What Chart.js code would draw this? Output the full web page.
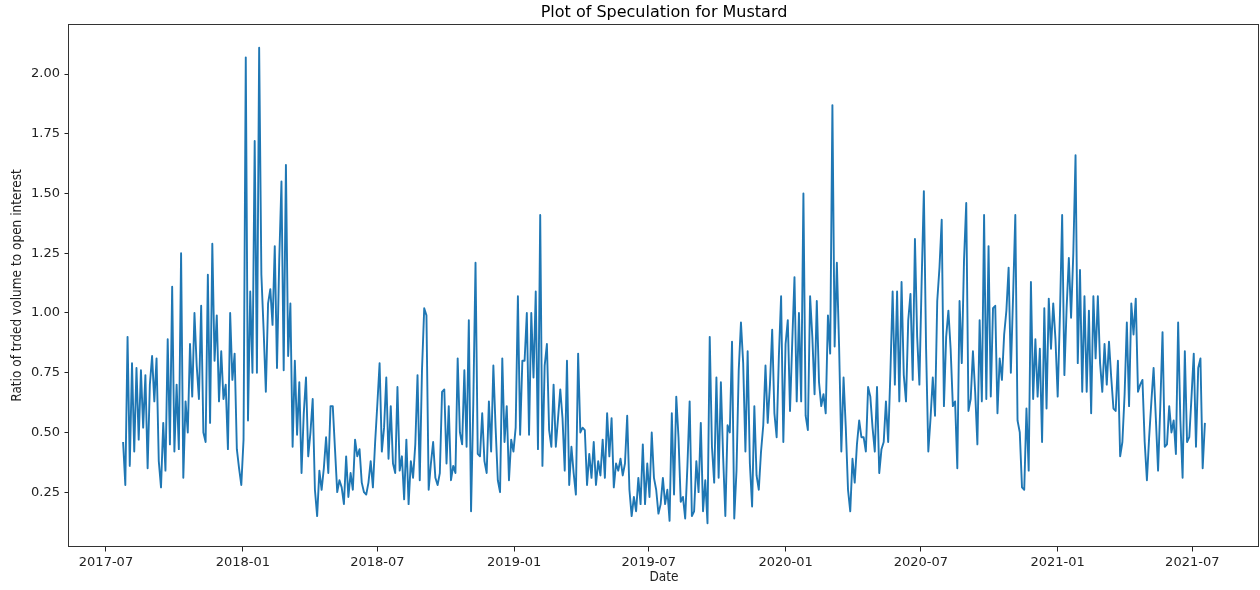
<!DOCTYPE html>
<html>
<head>
<meta charset="utf-8">
<title>Plot of Speculation for Mustard</title>
<script src="https://cdn.jsdelivr.net/npm/chart.js@4.4.1/dist/chart.umd.min.js"></script>
<style>
    html, body { margin: 0; padding: 0; background: #fff; }
</style>
</head>
<body>
<canvas id="myChart" width="1260" height="590"></canvas>
<script>
const startDate = '2017-07-24'
const stepDays = 3

// ratio of traded volume to open interest, one reading every stepDays
const ratio = [
    // 2017-07 .. 2017-11
    0.46, 0.28, 0.90, 0.36, 0.79, 0.42, 0.77, 0.47, 0.76, 0.52,
    0.74, 0.35, 0.70, 0.82, 0.63, 0.81, 0.38, 0.27, 0.54, 0.34,
    0.89, 0.45, 1.11, 0.42, 0.70, 0.43, 1.25, 0.31, 0.63, 0.50,
    0.87, 0.65, 1.00, 0.78, 0.64, 1.03, 0.50, 0.46, 1.16, 0.54,
    1.29, 0.80, 0.99, 0.63, 0.84, 0.64,
    // 2017-12 .. 2018-05
    0.70, 0.43, 1.00, 0.72, 0.83, 0.43, 0.35, 0.28, 0.47, 2.07,
    0.55, 1.09, 0.75, 1.72, 0.75, 2.11, 1.16, 0.93, 0.67, 1.04,
    1.10, 0.95, 1.28, 0.77, 1.22, 1.55, 0.76, 1.62, 0.82, 1.04,
    0.44, 0.80, 0.49, 0.71, 0.33, 0.58, 0.73, 0.40, 0.50, 0.64,
    0.26, 0.15, 0.34, 0.26, 0.35, 0.48, 0.33, 0.61, 0.61,
    // 2018-05 .. 2018-10
    0.43, 0.25, 0.30, 0.27, 0.20, 0.40, 0.23, 0.33, 0.26, 0.47,
    0.40, 0.43, 0.29, 0.25, 0.24, 0.29, 0.38, 0.27, 0.46, 0.62,
    0.79, 0.42, 0.52, 0.73, 0.39, 0.61, 0.37, 0.33, 0.69, 0.34,
    0.40, 0.22, 0.47, 0.20, 0.38, 0.31, 0.45, 0.74, 0.30, 0.76,
    1.02, 0.99, 0.26, 0.37, 0.46, 0.31, 0.28, 0.33, 0.67,
    // 2018-10 .. 2019-03
    0.68, 0.37, 0.61, 0.30, 0.36, 0.33, 0.81, 0.50, 0.45, 0.76,
    0.44, 0.97, 0.17, 0.62, 1.21, 0.41, 0.40, 0.58, 0.38, 0.33,
    0.63, 0.42, 0.78, 0.52, 0.30, 0.25, 0.81, 0.46, 0.61, 0.30,
    0.47, 0.42, 0.52, 1.07, 0.49, 0.80, 0.80, 1.00, 0.49, 1.00,
    0.73, 1.09, 0.43, 1.41, 0.36, 0.78, 0.87, 0.51, 0.44, 0.70,
    // 2019-03 .. 2019-08
    0.44, 0.56, 0.68, 0.56, 0.34, 0.80, 0.28, 0.44, 0.33, 0.24,
    0.83, 0.50, 0.52, 0.51, 0.28, 0.41, 0.31, 0.46, 0.28, 0.38,
    0.32, 0.47, 0.31, 0.58, 0.40, 0.56, 0.27, 0.37, 0.34, 0.39,
    0.32, 0.37, 0.57, 0.26, 0.15, 0.23, 0.17, 0.31, 0.20, 0.45,
    0.20, 0.37, 0.23, 0.50, 0.31, 0.26, 0.16, 0.20, 0.31,
    // 2019-08 .. 2020-01
    0.20, 0.26, 0.13, 0.58, 0.24, 0.65, 0.48, 0.21, 0.23, 0.14,
    0.36, 0.63, 0.15, 0.17, 0.38, 0.25, 0.54, 0.17, 0.30, 0.12,
    0.90, 0.44, 0.29, 0.73, 0.31, 0.71, 0.40, 0.15, 0.53, 0.50,
    0.88, 0.14, 0.34, 0.76, 0.96, 0.79, 0.42, 0.84, 0.37, 0.19,
    0.61, 0.32, 0.26, 0.42, 0.53, 0.78, 0.54, 0.70, 0.93,
    // 2020-01 .. 2020-06
    0.58, 0.48, 0.82, 1.07, 0.46, 0.87, 0.97, 0.59, 0.88, 1.15,
    0.63, 1.00, 0.63, 1.50, 0.57, 0.51, 1.07, 0.90, 0.66, 1.05,
    0.71, 0.61, 0.66, 0.58, 0.99, 0.83, 1.87, 0.86, 1.21, 0.86,
    0.42, 0.73, 0.52, 0.26, 0.17, 0.39, 0.29, 0.45, 0.55, 0.48,
    0.48, 0.42, 0.69, 0.65, 0.52, 0.42, 0.69, 0.33, 0.43,
    // 2020-06 .. 2020-11
    0.46, 0.63, 0.46, 0.75, 1.09, 0.70, 1.09, 0.63, 1.13, 0.74,
    0.63, 0.97, 1.08, 0.72, 1.31, 0.90, 0.70, 1.13, 1.51, 0.85,
    0.42, 0.56, 0.73, 0.57, 1.05, 1.19, 1.39, 0.61, 0.90, 1.01,
    0.85, 0.61, 0.63, 0.35, 1.05, 0.79, 1.22, 1.46, 0.59, 0.64,
    0.84, 0.67, 0.45, 0.97, 0.63, 1.41, 0.64, 1.28, 0.65, 1.02,
    // 2020-11 .. 2021-03
    1.03, 0.58, 0.81, 0.72, 0.91, 1.01, 1.19, 0.75, 1.07, 1.41,
    0.55, 0.50, 0.27, 0.26, 0.60, 0.34, 1.13, 0.64, 0.89, 0.65,
    0.85, 0.46, 1.02, 0.60, 1.06, 0.85, 1.04, 0.89, 0.65, 0.99,
    1.41, 0.74, 1.02, 1.23, 0.98, 1.25, 1.66, 0.79, 1.18, 0.67,
    1.07, 0.67, 1.01, 0.58, 1.07, 0.81, 1.07, 0.79, 0.67,
    // 2021-03 .. 2021-07
    0.87, 0.70, 0.88, 0.73, 0.60, 0.59, 0.80, 0.40, 0.46, 0.66,
    0.96, 0.61, 1.04, 0.91, 1.06, 0.67, 0.70, 0.72, 0.46, 0.30,
    0.48, 0.63, 0.77, 0.56, 0.34, 0.61, 0.92, 0.44, 0.45, 0.61,
    0.50, 0.55, 0.41, 0.96, 0.55, 0.31, 0.84, 0.46, 0.48, 0.65,
    0.83, 0.44, 0.77, 0.81, 0.35, 0.54
]

const yTicks = [0.25, 0.50, 0.75, 1.00, 1.25, 1.50, 1.75, 2.00]
const xTickLabels = ['2017-07', '2018-01', '2018-07', '2019-01', '2019-07', '2020-01', '2020-07', '2021-01', '2021-07']

const DAY = 86400000
const t0 = Date.parse(startDate)
const points = ratio.map((v, i) => ({ x: t0 + i * stepDays * DAY, y: v }))
const monthTime = (label) => Date.parse(label + '-01')

// matplotlib style 5% margins
const xFirst = points[0].x
const xLast = points[points.length - 1].x
const xPad = (xLast - xFirst) * 0.05
const yLo = Math.min(...ratio)
const yHi = Math.max(...ratio)
const yPad = (yHi - yLo) * 0.05

const tickFont = { family: 'DejaVu Sans', size: 13 }
const labelFont = { family: '"DejaVu Sans Condensed", "Liberation Sans", sans-serif', size: 13.5 }
const ink = '#222'

const frame = {
    id: 'frame',
    afterDraw(chart) {
        const { ctx, chartArea } = chart
        ctx.save()
        ctx.strokeStyle = '#333'
        ctx.lineWidth = 1
        ctx.strokeRect(Math.round(chartArea.left) - 0.5, Math.round(chartArea.top) + 0.5,
            Math.round(chartArea.right - chartArea.left), Math.round(chartArea.bottom - chartArea.top) - 1)
        ctx.restore()
    }
}

new Chart(document.getElementById('myChart'), {
    type: 'line',
    data: {
        datasets: [
            {
                label: 'Ratio',
                data: points,
                borderColor: '#1f77b4',
                backgroundColor: '#1f77b4',
                borderWidth: 1.9,
                borderJoinStyle: 'round',
                pointRadius: 0,
                tension: 0,
                fill: false,
            }
        ]
    },
    options: {
        responsive: false,
        animation: false,
        devicePixelRatio: 1,
        layout: { padding: { left: 0, right: 1, top: 0, bottom: 0 } },
        plugins: {
            legend: { display: false },
            tooltip: { enabled: false },
            title: {
                display: true,
                text: 'Plot of Speculation for Mustard',
                fullSize: false,
                color: '#000',
                font: { family: 'DejaVu Sans', size: 16, weight: 'normal' },
                padding: { top: 3, bottom: 1.8 },
            },
        },
        scales: {
            x: {
                type: 'linear',
                min: xFirst - xPad,
                max: xLast + xPad,
                afterBuildTicks: (scale) => {
                    scale.ticks = xTickLabels.map(l => ({ value: monthTime(l) }))
                },
                afterFit: (scale) => { scale.height = 43 },
                ticks: {
                    autoSkip: false,
                    maxRotation: 0,
                    padding: 3.5,
                    color: ink,
                    font: tickFont,
                    callback: (value) => {
                        const hit = xTickLabels.find(l => monthTime(l) === value)
                        return hit || ''
                    },
                },
                grid: { display: true, drawOnChartArea: false, tickLength: 4.5, color: ink },
                border: { display: false },
                title: {
                    display: true,
                    text: 'Date',
                    color: ink,
                    font: labelFont,
                    padding: { top: 0, bottom: 4.9 },
                },
            },
            y: {
                type: 'linear',
                min: yLo - yPad,
                max: yHi + yPad,
                afterBuildTicks: (scale) => {
                    scale.ticks = yTicks.map(v => ({ value: v }))
                },
                afterFit: (scale) => { scale.width = 69 },
                ticks: {
                    padding: 4.5,
                    color: ink,
                    font: tickFont,
                    callback: (value) => Number(value).toFixed(2),
                },
                grid: { display: true, drawOnChartArea: false, tickLength: 4.5, color: ink },
                border: { display: false },
                title: {
                    display: true,
                    text: 'Ratio of trded volume to open interest',
                    color: ink,
                    font: labelFont,
                    padding: { top: 9.4, bottom: 0 },
                },
            },
        },
    },
    plugins: [frame],
})
</script>
</body>
</html>
